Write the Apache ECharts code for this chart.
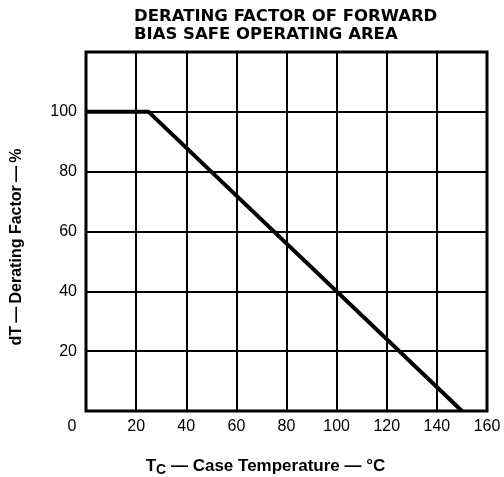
<!DOCTYPE html>
<html>
<head>
<meta charset="utf-8">
<script src="https://cdn.jsdelivr.net/npm/echarts@6/dist/echarts.min.js"></script>
<style>
html,body{margin:0;padding:0;background:#fff;}
#c{width:504px;height:477px;}
</style>
</head>
<body>
<div id="c"></div>
<script>
const titleLines = ['DERATING FACTOR OF FORWARD', 'BIAS SAFE OPERATING AREA'];
const xName = 'T{sub|C} \u2014 Case Temperature \u2014 \u00B0C';
const yName = 'dT\u2009\u2014\u2009Derating Factor\u2009\u2014\u2009%';
const caseTemp = [0, 25, 150];
const deratingFactor = [100, 100, 0];
const xMin = 0, xMax = 160, xStep = 20;
const yMin = 0, yMax = 120, yStep = 20;

const chart = echarts.init(document.getElementById('c'), null, {renderer: 'canvas'});
chart.setOption({
  animation: false,
  backgroundColor: '#fff',
  title: {
    text: titleLines.join('\n'),
    left: 129, top: 3,
    textStyle: {fontFamily: 'DejaVu Sans', fontWeight: 'bold', fontSize: 16.5, lineHeight: 18, color: '#000'}
  },
  grid: {left: 86, right: 17, top: 52, bottom: 66, show: true, borderColor: '#000', borderWidth: 3,
    containLabel: false, outerBoundsMode: 'none'},
  xAxis: {
    type: 'value', min: xMin, max: xMax, interval: xStep,
    name: xName, nameLocation: 'middle', nameGap: 44,
    nameTextStyle: {fontFamily: 'Liberation Sans', fontWeight: 'bold', fontSize: 17, color: '#000', padding: [0, 42, 0, 0],
      rich: {sub: {fontFamily: 'Liberation Sans', fontSize: 14, fontWeight: 'bold', padding: [8, 0, 0, 0], color: '#000'}}},
    axisLine: {show: false}, axisTick: {show: false},
    splitLine: {show: true, lineStyle: {color: '#000', width: 2}},
    axisLabel: {
      fontFamily: 'Liberation Sans', fontSize: 16, color: '#000', margin: 8,
      formatter: v => v === 0 ? '{z|0}' : String(v),
      rich: {z: {fontFamily: 'Liberation Sans', fontSize: 16, color: '#000', padding: [0, 28, 0, 0]}}
    }
  },
  yAxis: {
    type: 'value', min: yMin, max: yMax, interval: yStep,
    name: yName, nameLocation: 'middle', nameGap: 61, nameRotate: 90,
    nameTextStyle: {fontFamily: 'Liberation Sans', fontWeight: 'bold', fontSize: 16, color: '#000', padding: [0, 31, 0, 0]},
    axisLine: {show: false}, axisTick: {show: false},
    splitLine: {show: true, lineStyle: {color: '#000', width: 2}},
    axisLabel: {fontFamily: 'Liberation Sans', fontSize: 16, color: '#000', margin: 9, showMinLabel: false, showMaxLabel: false}
  },
  series: [{
    type: 'line',
    data: caseTemp.map((t, i) => [t, deratingFactor[i]]),
    symbol: 'none',
    lineStyle: {color: '#000', width: 4},
    z: 5
  }]
});
</script>
</body>
</html>
